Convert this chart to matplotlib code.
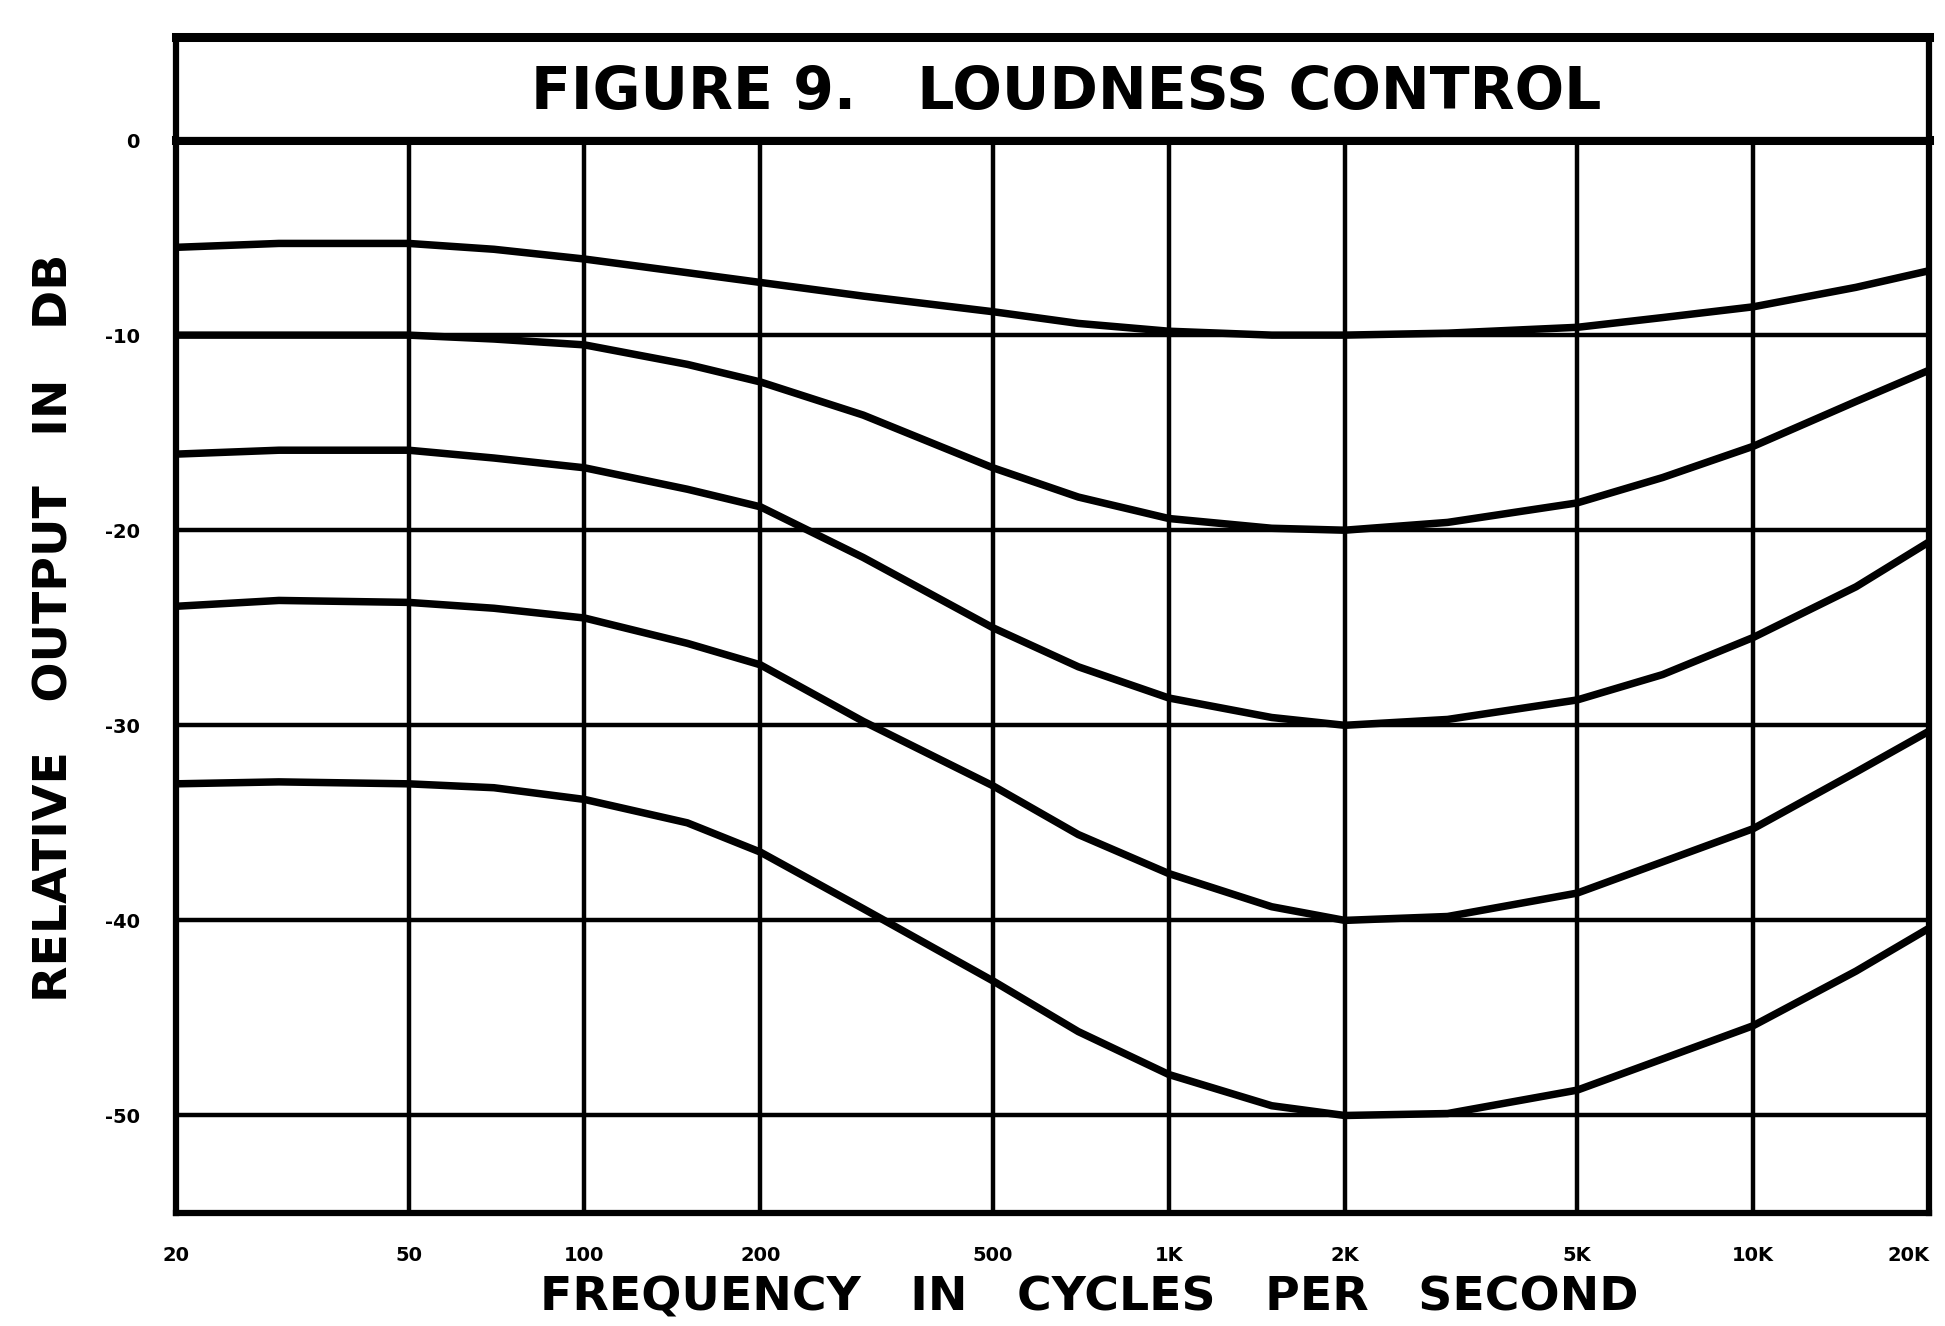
"""
Figure 9 - loudness control: relative output (dB) vs frequency, redrawn
from the scanned chart.
"""

import matplotlib
matplotlib.use("Agg")
import matplotlib.pyplot as plt
from matplotlib.ticker import FixedLocator, FixedFormatter, NullLocator


# ---------------------------------------------------------------------------
# Data
# ---------------------------------------------------------------------------

freq = [20, 30, 50, 70, 100, 150, 200, 300, 500, 700,
        1000, 1500, 2000, 3000, 5000, 7000, 10000, 15000, 20000]

curve_10db = [-5.5, -5.3, -5.3, -5.6, -6.1, -6.8, -7.3, -8.0, -8.8, -9.4,
              -9.8, -10.0, -10.0, -9.9, -9.6, -9.1, -8.55, -7.55, -6.7]
curve_20db = [-10.0, -10.0, -10.0, -10.2, -10.5, -11.5, -12.4, -14.1, -16.8, -18.3,
              -19.4, -19.9, -20.0, -19.6, -18.6, -17.3, -15.7, -13.4, -11.8]
curve_30db = [-16.1, -15.9, -15.9, -16.3, -16.8, -17.9, -18.8, -21.4, -25.0, -27.0,
              -28.6, -29.6, -30.0, -29.7, -28.7, -27.4, -25.5, -22.9, -20.6]
curve_40db = [-23.9, -23.6, -23.7, -24.0, -24.5, -25.8, -26.9, -29.8, -33.1, -35.6,
              -37.6, -39.3, -40.0, -39.8, -38.6, -37.0, -35.3, -32.4, -30.3]
curve_50db = [-33.0, -32.9, -33.0, -33.2, -33.8, -35.0, -36.5, -39.4, -43.1, -45.7,
              -47.9, -49.5, -50.0, -49.9, -48.7, -47.1, -45.4, -42.6, -40.4]

x_ticks = [20, 50, 100, 200, 500, 1000, 2000, 5000, 10000, 20000]
x_tick_labels = ["20", "50", "100", "200", "500", "1K", "2K", "5K", "10K", "20K"]
y_ticks = [0, -10, -20, -30, -40, -50]
y_tick_labels = ["0", "-10", "-20", "-30", "-40", "-50"]

title = "FIGURE 9.   LOUDNESS CONTROL"
x_label = "FREQUENCY   IN   CYCLES   PER   SECOND"
y_label = "RELATIVE   OUTPUT   IN   DB"


def main():
    plt.rcParams["font.family"] = ["DejaVu Sans"]
    plt.rcParams["font.weight"] = "bold"

    fig = plt.figure(figsize=(19.45, 13.26), dpi=100)
    ax = fig.add_axes([0.0905, 0.0852, 0.9013, 0.8092])

    for ys in (curve_10db, curve_20db, curve_30db, curve_40db, curve_50db):
        ax.plot(freq, ys, color="black", lw=5.4, solid_joinstyle="round",
                solid_capstyle="butt", zorder=3)

    ax.set_xscale("log")
    ax.set_xlim(20, 20000)
    ax.set_ylim(-55, 0)

    ax.xaxis.set_major_locator(FixedLocator(x_ticks))
    ax.xaxis.set_major_formatter(FixedFormatter(x_tick_labels))
    ax.xaxis.set_minor_locator(NullLocator())
    ax.yaxis.set_major_locator(FixedLocator(y_ticks))
    ax.yaxis.set_major_formatter(FixedFormatter(y_tick_labels))

    ax.tick_params(axis="x", length=0, pad=24, labelsize=14)
    ax.tick_params(axis="y", length=0, pad=26, labelsize=14)
    for lab in ax.get_xticklabels() + ax.get_yticklabels():
        lab.set_fontweight("bold")
    # last label sits on the right edge of the page, keep it inside
    ax.get_xticklabels()[-1].set_horizontalalignment("right")

    ax.grid(True, color="black", lw=3.2, zorder=1)
    for side, sp in ax.spines.items():
        sp.set_linewidth(6.5 if side == "top" else 4.5)
        sp.set_color("black")

    ax.set_xlabel(x_label, fontsize=34, fontweight="bold")
    ax.xaxis.set_label_coords(0.521, -0.058)
    ax.set_ylabel(y_label, fontsize=34, fontweight="bold")
    ax.yaxis.set_label_coords(-0.056, 0.545)

    # ── title box sitting on top of the plot ────────────────────────────────
    tax = fig.add_axes([0.0905, 0.8944, 0.9013, 0.0777])
    tax.set_xticks([])
    tax.set_yticks([])
    for sp in tax.spines.values():
        sp.set_linewidth(4.5)
        sp.set_color("black")
    tax.spines["top"].set_linewidth(6.5)
    tax.text(0.508, 0.46, title, transform=tax.transAxes, ha="center", va="center",
             fontsize=42, fontweight="bold")

    fig.savefig("out.png", dpi=100)
    plt.close(fig)


if __name__ == "__main__":
    main()
